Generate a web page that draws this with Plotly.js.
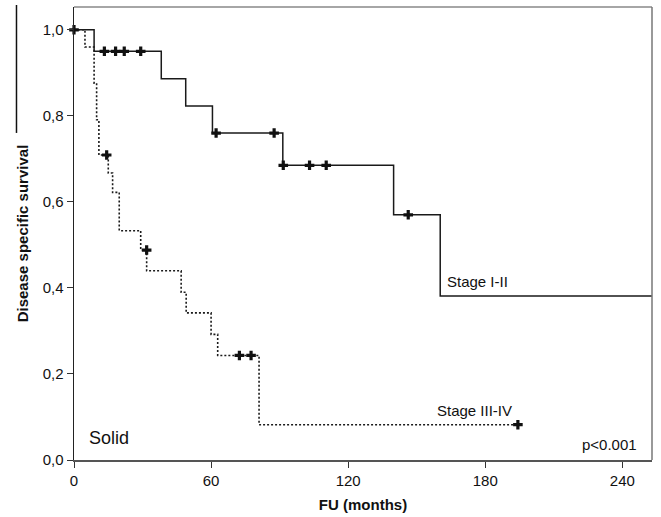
<!DOCTYPE html>
<html>
<head>
<meta charset="utf-8">
<script src="https://cdn.plot.ly/plotly-3.0.1.min.js"></script>
<style>html,body{margin:0;padding:0;background:#fff}#chart{width:661px;height:517px}</style>
</head>
<body>
<div id="chart"></div>
<script>
// Stage I-II (solid) Kaplan-Meier steps
var stage12Time = [0, 8.8, 38.2, 48.9, 60.6, 91.4, 139.9, 160.3, 253];
var stage12Surv = [1.0, 0.950, 0.886, 0.823, 0.760, 0.685, 0.570, 0.381, 0.381];
var stage12CensTime = [0, 13.3, 18.2, 22.0, 29.2, 62.2, 87.6, 91.6, 103.1, 110.4, 146.3];
var stage12CensSurv = [1.0, 0.950, 0.950, 0.950, 0.950, 0.760, 0.760, 0.685, 0.685, 0.685, 0.570];

// Stage III-IV (dotted) Kaplan-Meier steps
var stage34Time = [0, 4.8, 8.8, 9.9, 10.9, 15.0, 16.9, 19.8, 29.2, 31.8, 46.9, 49.1, 60.0, 62.9, 81.0, 194.3];
var stage34Surv = [1.0, 0.960, 0.876, 0.791, 0.709, 0.667, 0.622, 0.533, 0.488, 0.440, 0.390, 0.342, 0.292, 0.243, 0.082, 0.082];
var stage34CensTime = [14.3, 31.8, 72.4, 77.5, 194.3];
var stage34CensSurv = [0.709, 0.488, 0.243, 0.243, 0.082];

var xTicks = [0, 60, 120, 180, 240];
var yTicks = [0, 0.2, 0.4, 0.6, 0.8, 1.0];
var yTickText = ['0,0', '0,2', '0,4', '0,6', '0,8', '1,0'];

var font = 'Liberation Sans, Arial, sans-serif';
var markerStyle = {symbol: 'cross', size: 8, color: '#111'};

var traces = [
  {x: stage12Time, y: stage12Surv, mode: 'lines', line: {shape: 'hv', color: '#1a1a1a', width: 1.5}, name: 'Stage I-II', hoverinfo: 'skip'},
  {x: stage34Time, y: stage34Surv, mode: 'lines', line: {shape: 'hv', color: '#1a1a1a', width: 1.6, dash: '2px,2px'}, name: 'Stage III-IV', hoverinfo: 'skip'},
  {x: stage12CensTime, y: stage12CensSurv, mode: 'markers', marker: markerStyle, cliponaxis: false, name: 'censored I-II'},
  {x: stage34CensTime, y: stage34CensSurv, mode: 'markers', marker: markerStyle, cliponaxis: false, name: 'censored III-IV'}
];

var layout = {
  width: 661, height: 517,
  margin: {l: 74, r: 9, t: 7, b: 57, pad: 0},
  paper_bgcolor: '#fff', plot_bgcolor: '#fff',
  showlegend: false,
  font: {family: font, color: '#111', size: 15},
  xaxis: {
    range: [0, 253], tickvals: xTicks, ticktext: xTicks.map(String),
    ticks: 'outside', ticklen: 6, tickwidth: 1, tickcolor: '#333',
    showline: true, linecolor: '#555', linewidth: 1.5, showgrid: false, zeroline: false,
    tickfont: {family: font, size: 15, color: '#111'},
    title: {text: '<b>FU (months)</b>', font: {family: font, size: 15, color: '#111'}, standoff: 12}
  },
  yaxis: {
    range: [0, 1.053], tickvals: yTicks, ticktext: yTickText,
    ticks: 'outside', ticklen: 6, tickwidth: 1, tickcolor: '#333',
    showline: true, linecolor: '#222', linewidth: 1.5, showgrid: false, zeroline: false,
    tickfont: {family: font, size: 15, color: '#111'},
    title: {text: '<b>Disease specific survival</b>', font: {family: font, size: 15, color: '#111'}, standoff: 10}
  },
  shapes: [
    {type: 'line', xref: 'paper', yref: 'paper', x0: 0, x1: 1, y0: 1, y1: 1, line: {color: '#888', width: 1.5}},
    {type: 'line', xref: 'paper', yref: 'paper', x0: 1, x1: 1, y0: 0, y1: 1, line: {color: '#777', width: 1.5}},
    {type: 'line', xref: 'paper', yref: 'paper', x0: -0.0995, x1: -0.0995, y0: 1.0044, y1: 0.722, line: {color: '#111', width: 1.5}}
  ],
  annotations: [
    {x: 162.5, y: 0.416, xref: 'x', yref: 'y', text: 'Stage I-II', showarrow: false, xanchor: 'left', yanchor: 'middle', font: {family: font, size: 15, color: '#111'}},
    {x: 158.1, y: 0.116, xref: 'x', yref: 'y', text: 'Stage III-IV', showarrow: false, xanchor: 'left', yanchor: 'middle', font: {family: font, size: 15, color: '#111'}},
    {x: 247.5, y: 0.035, xref: 'x', yref: 'y', text: 'p<0.001', showarrow: false, xanchor: 'right', yanchor: 'middle', font: {family: font, size: 15, color: '#111'}},
    {x: 5.7, y: 0.051, xref: 'x', yref: 'y', text: 'Solid', showarrow: false, xanchor: 'left', yanchor: 'middle', font: {family: font, size: 18, color: '#111'}}
  ]
};

Plotly.newPlot('chart', traces, layout, {displayModeBar: false, staticPlot: true});
</script>
</body>
</html>
